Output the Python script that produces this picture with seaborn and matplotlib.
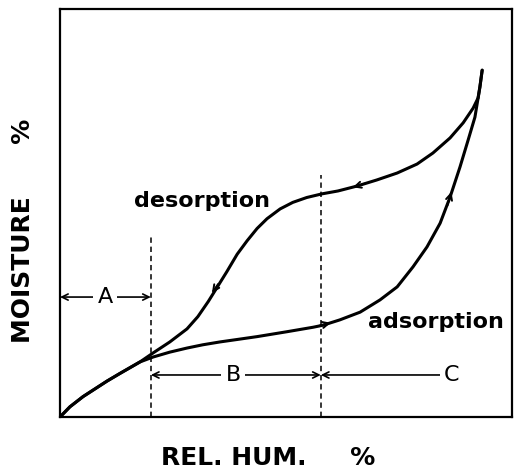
import matplotlib
matplotlib.use("Agg")
import matplotlib.pyplot as plt
import seaborn as sns

# (x: rel. humidity 0-100, y: moisture 0-100, arbitrary units)
common_x = [0, 2.2, 5.1, 10.4, 13.3, 15.5, 17.7]
common_y = [0, 2.5, 5.0, 8.8, 10.7, 12.1, 13.5]

ads_x = [20.6, 24.3, 28.1, 31.6, 35.4, 39.2, 43.6, 50.2, 56.0, 58.2, 61.9, 66.4, 70.8, 74.6,
         78.1, 81.2, 84.1, 86.3, 88.5, 90.3, 91.8, 92.5, 92.9, 93.4]
ads_y = [14.7, 15.9, 16.9, 17.7, 18.4, 19.0, 19.7, 20.9, 22.0, 22.5, 23.8, 25.7, 28.7, 31.9,
         36.8, 41.7, 47.5, 53.9, 61.3, 67.9, 73.5, 78.2, 80.9, 85.0]

des_x = [20.6, 24.3, 28.1, 30.5, 32.8, 34.6, 36.9, 39.2, 41.4, 43.6, 45.8, 48.7,
         51.5, 54.6, 58.0, 61.5, 65.7, 70.1, 74.6, 79.0, 82.5, 86.3, 89.2, 91.4,
         92.5, 92.9, 93.4]
des_y = [15.7, 18.4, 21.6, 24.6, 28.3, 31.5, 35.6, 39.9, 43.2, 46.2, 48.6, 51.0,
         52.6, 53.8, 54.7, 55.4, 56.6, 58.1, 59.8, 62.0, 64.7, 68.4, 72.1, 75.7,
         78.2, 80.9, 85.0]

# direction arrows on the curves: (tail, tip)
curve_arrows = [((35.0, 32.6), (33.6, 30.4)),
                ((67.4, 57.2), (64.8, 56.3)),
                ((57.2, 22.3), (59.9, 23.1)),
                ((85.7, 51.8), (86.6, 55.2))]

# region boundaries
bound_x = [20.1, 57.7]
bound_top = [44.6, 59.3]

region_labels = ['A', 'B', 'C']
region_label_x = [10.0, 38.3, 86.7]
region_y = [29.4, 10.3, 10.3]

sns.set_style("white")
plt.rcParams['font.family'] = ['DejaVu Sans']
plt.rcParams['text.color'] = 'black'
plt.rcParams['axes.labelcolor'] = 'black'

fig = plt.figure(figsize=(5.23, 4.71), dpi=100)
ax = fig.add_axes([60 / 523, 54 / 471, 452 / 523, 408 / 471])

sns.lineplot(x=common_x + ads_x, y=common_y + ads_y, sort=False, estimator=None,
             color='black', lw=2.2, ax=ax, solid_joinstyle='round')
sns.lineplot(x=common_x + des_x, y=common_y + des_y, sort=False, estimator=None,
             color='black', lw=2.2, ax=ax, solid_joinstyle='round')

for tail, tip in curve_arrows:
    ax.annotate('', xy=tip, xytext=tail,
                arrowprops=dict(arrowstyle='->,head_length=0.45,head_width=0.22',
                                color='black', lw=1.4, shrinkA=0, shrinkB=0))

for bx, bt in zip(bound_x, bound_top):
    ax.plot([bx, bx], [0, bt], color='black', lw=1.1, ls=(0, (3.5, 2.5)))

# dimension arrows
dim_kw = dict(arrowstyle='<->,head_length=0.45,head_width=0.22', color='black',
              lw=1.2, shrinkA=0, shrinkB=0)
ax.annotate('', xy=(0, region_y[0]), xytext=(bound_x[0], region_y[0]), arrowprops=dim_kw)
ax.annotate('', xy=(bound_x[0], region_y[1]), xytext=(bound_x[1], region_y[1]), arrowprops=dim_kw)
ax.annotate('', xy=(bound_x[1], region_y[2]), xytext=(region_label_x[2] - 2, region_y[2]),
            arrowprops=dict(arrowstyle='->,head_length=0.45,head_width=0.22', color='black',
                            lw=1.2, shrinkA=0, shrinkB=0))
for lab, lx, ly in zip(region_labels, region_label_x, region_y):
    ax.text(lx, ly, lab, ha='center', va='center', fontsize=16,
            bbox=dict(facecolor='white', edgecolor='none', pad=3))

ax.text(31.5, 51.5, 'desorption', ha='center', va='baseline', fontsize=16, fontweight='bold')
ax.text(83.2, 21.8, 'adsorption', ha='center', va='baseline', fontsize=16, fontweight='bold')

ax.set_xlim(0, 100)
ax.set_ylim(0, 100)
ax.set_xticks([])
ax.set_yticks([])
for s in ax.spines.values():
    s.set_visible(True)
    s.set_color('black')
    s.set_linewidth(1.6)

ax.set_xlabel('REL. HUM.     %', fontsize=18, fontweight='bold')
ax.set_ylabel('MOISTURE      %', fontsize=18, fontweight='bold')
ax.xaxis.set_label_coords(0.460, -0.100)
ax.yaxis.set_label_coords(-0.082, 0.456)
ax.xaxis.label.set_va('center')
ax.yaxis.label.set_va('center')

fig.savefig('out.png', dpi=100, facecolor='white')
